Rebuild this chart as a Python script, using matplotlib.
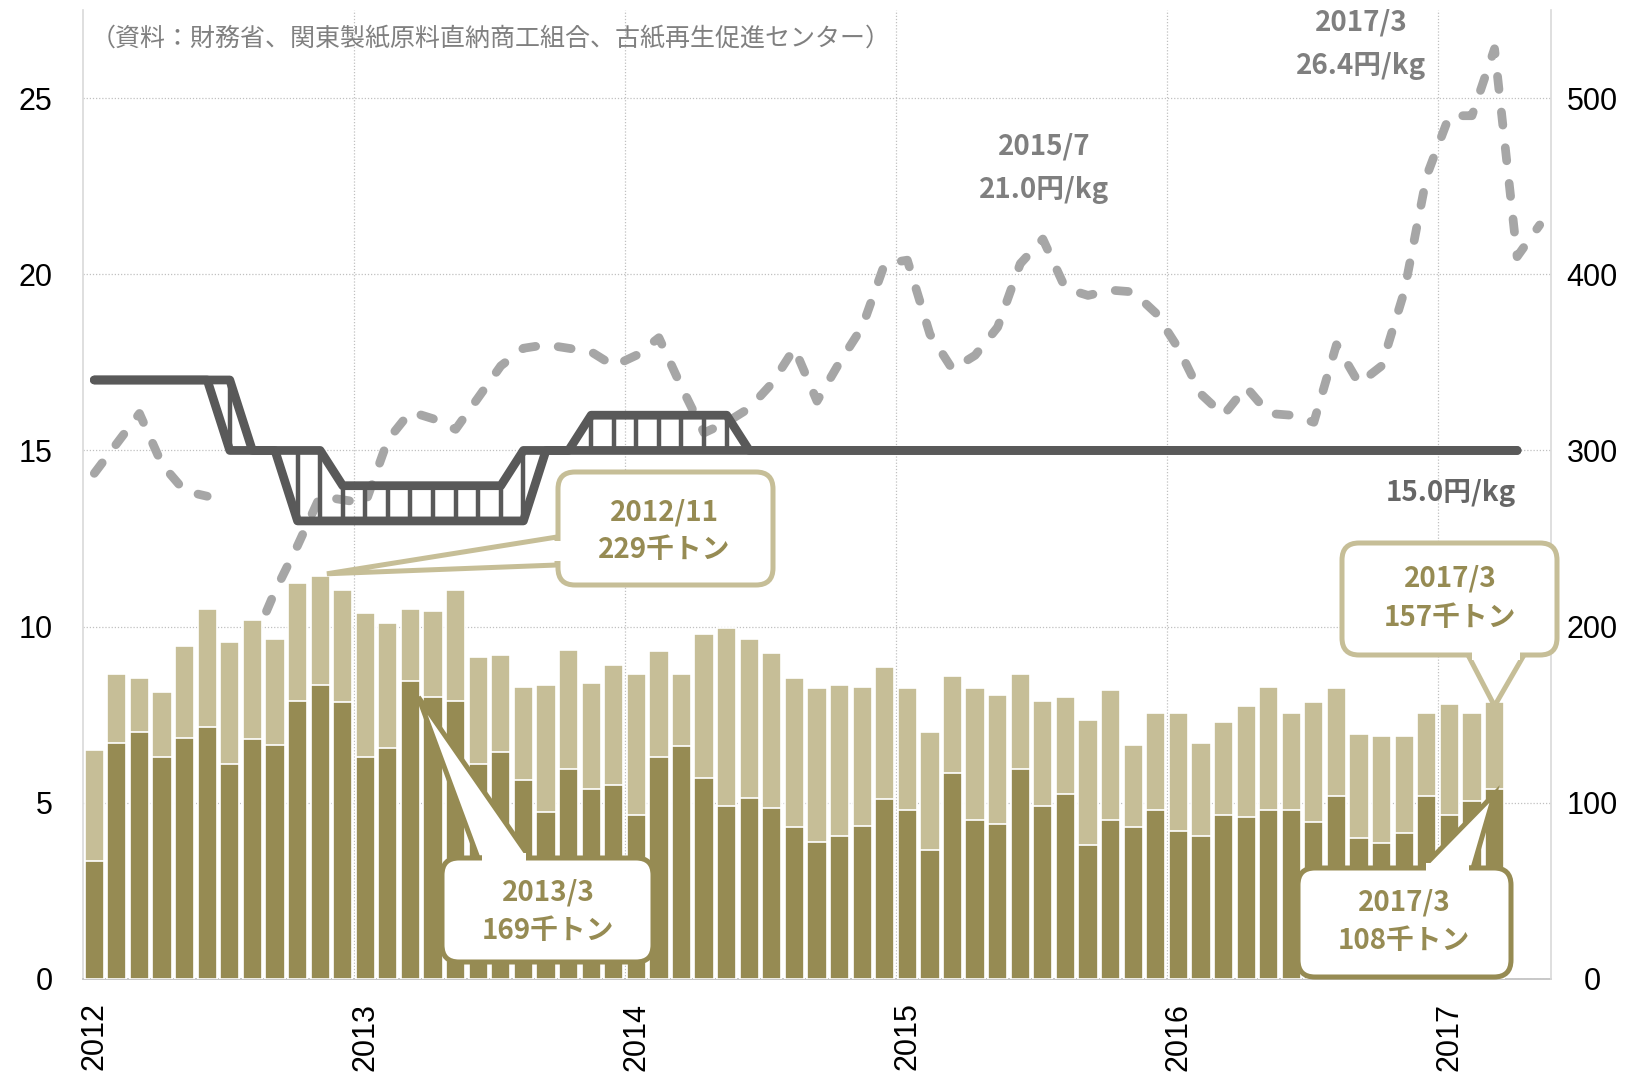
# -*- coding: utf-8 -*-
# 古紙の輸出量と価格 (2012/1 - 2017/5)

# %%
import numpy as np
import matplotlib.pyplot as plt
from matplotlib.patches import FancyBboxPatch, Polygon
from matplotlib.transforms import IdentityTransform

plt.rcParams['font.family'] = ['Noto Sans CJK JP', 'DejaVu Sans']

# %% data
years = [2012, 2013, 2014, 2015, 2016, 2017]
months = [(y, m) for y in years for m in range(1, 13)][:65]   # 2012/1 .. 2017/5

# 輸出量 千トン (右軸) : 全体と下側(濃い色)の部分, 2012/1 .. 2017/3
export_total = [130, 173, 171, 163, 189, 210, 191, 204, 193, 225, 229, 221,
                208, 202, 210, 209, 221, 183, 184, 166, 167, 187, 168, 178,
                173, 186, 173, 196, 199, 193, 185, 171, 165, 167, 166, 177,
                165, 140, 172, 165, 161, 173, 158, 160, 147, 164, 133, 151,
                151, 134, 146, 155, 166, 151, 157, 165, 139, 138, 138, 151,
                156, 151, 157]
export_lower = [67, 134, 140, 126, 137, 143, 122, 136, 133, 158, 167, 157,
                126, 131, 169, 160, 158, 122, 129, 113, 95, 119, 108, 110,
                93, 126, 132, 114, 98, 103, 97, 86, 78, 81, 87, 102,
                96, 73, 117, 90, 88, 119, 98, 105, 76, 90, 86, 96,
                84, 81, 93, 92, 96, 96, 89, 104, 80, 77, 83, 104,
                93, 101, 108]

# 輸出価格 円/kg (破線, 左軸), 2012/7 は欠測
price = [14.35, 15.2, 16.05, 14.6, 13.85, 13.7, np.nan, 9.5, 11.0, 12.3, 13.7, 13.6,
         13.5, 15.3, 16.1, 15.9, 15.6, 16.5, 17.4, 17.9, 18.0, 17.9, 17.8, 17.4,
         17.7, 18.2, 16.8, 15.5, 15.8, 16.2, 16.9, 17.9, 16.4, 17.5, 18.5, 20.3,
         20.4, 18.3, 17.3, 17.7, 18.5, 20.3, 21.0, 19.6, 19.4, 19.55, 19.5, 18.9,
         17.9, 16.6, 16.0, 16.8, 16.05, 16.0, 15.8, 18.0, 16.9, 17.4, 19.5, 22.8,
         24.5, 24.5, 26.4, 20.5, 21.4]

# 直納建値 円/kg (実線の2本), 2012/1 .. 2017/4
tatene_a = [17, 17, 17, 17, 17, 17, 15, 15, 15, 13, 13, 13,
            13, 13, 13, 13, 13, 13, 13, 13, 15, 15, 16, 16,
            16, 16, 16, 16, 16, 15, 15, 15, 15, 15, 15, 15,
            15, 15, 15, 15, 15, 15, 15, 15, 15, 15, 15, 15,
            15, 15, 15, 15, 15, 15, 15, 15, 15, 15, 15, 15,
            15, 15, 15, 15]
tatene_b = [17, 17, 17, 17, 17, 17, 17, 15, 15, 15, 15, 14,
            14, 14, 14, 14, 14, 14, 14, 15, 15, 15, 15, 15,
            15, 15, 15, 15, 15, 15, 15, 15, 15, 15, 15, 15,
            15, 15, 15, 15, 15, 15, 15, 15, 15, 15, 15, 15,
            15, 15, 15, 15, 15, 15, 15, 15, 15, 15, 15, 15,
            15, 15, 15, 15]

LIGHT = '#C6BE97'
DARK = '#968B53'
LINE = '#595959'
DASH = '#A6A6A6'
GRID = '#C0C0C0'

W, H = 1642, 1081

# %% figure
x = np.arange(len(months))
nb = len(export_total)
nt = len(tatene_a)

fig = plt.figure(figsize=(W / 100, H / 100), dpi=100)
ax = fig.add_axes([83 / W, 1 - 979 / H, (1551 - 83) / W, (979 - 10) / H])
ax2 = ax.twinx()

# lines (left axis)
ax.plot(x, price, color=DASH, lw=6.3, dashes=(1.5, 2.6),
        dash_capstyle='round', zorder=3)
ta = np.array(tatene_a, dtype=float)
tb = np.array(tatene_b, dtype=float)
lo = np.minimum(ta, tb)
hi = np.maximum(ta, tb)
m = hi > lo
ax.vlines(x[:nt][m], lo[m], hi[m], color=LINE, lw=3.2, zorder=4)
for s in (ta, tb):
    ax.plot(x[:nt], s, color=LINE, lw=6.3, solid_capstyle='round',
            solid_joinstyle='round', zorder=5)

# bars (right axis)
ax2.bar(x[:nb], export_total, width=0.85, color=LIGHT, edgecolor='white', lw=1.2)
ax2.bar(x[:nb], export_lower, width=0.85, color=DARK, edgecolor='white', lw=1.2)

ax.set_xlim(-0.5, len(months) - 0.5)
ax.set_ylim(0, 27.5)
ax2.set_ylim(0, 550)

# grid
ax.grid(axis='y', color=GRID, lw=0.9, linestyle=(0, (1, 1.5)), zorder=0)
jan = [i for i, (y, mo) in enumerate(months) if mo == 1]
for j in jan[1:]:
    ax.axvline(j - 0.5, color=GRID, lw=0.9, linestyle=(0, (1, 1.5)), zorder=0)

# ticks
tickfont = dict(family='Liberation Sans', size=22)
ax.set_xticks(jan)
ax.set_xticklabels([str(months[i][0]) for i in jan], rotation=90, **tickfont)
ax.set_yticks(range(0, 26, 5))
ax.set_yticklabels([str(v) for v in range(0, 26, 5)], **tickfont)
ax2.set_yticks(range(0, 501, 100))
ax2.set_yticklabels([str(v) for v in range(0, 501, 100)], **tickfont)
for t in ax2.get_yticklabels():
    t.set_ha('center')
ax.tick_params(axis='x', length=0, pad=17)
ax.tick_params(axis='y', length=0, pad=22)
ax2.tick_params(axis='y', length=0, pad=29.5)

for a in (ax, ax2):
    a.spines['top'].set_visible(False)
ax.spines['right'].set_visible(False)
ax2.spines['left'].set_visible(False)
ax2.spines['bottom'].set_visible(False)
ax.spines['left'].set_color('#D9D9D9')
ax.spines['bottom'].set_color('#BFBFBF')
ax2.spines['right'].set_color('#D9D9D9')
for sp in ('left', 'bottom'):
    ax.spines[sp].set_linewidth(1.2)
ax2.spines['right'].set_linewidth(1.2)


# %% labels and callouts (positions in image pixels, y downwards)
def fxy(px, py):
    return px / W, 1 - py / H


def label(px, py, s, color, size=20, weight='bold'):
    fig.text(*fxy(px, py), s, color=color, fontsize=size, fontweight=weight,
             ha='center', va='center', zorder=20)


def callout(box, base, tip, ec, lines):
    x0, y0, x1, y1 = box
    tx, ty = ax2.transData.transform(tip)
    b1 = np.array([base[0][0], H - base[0][1]], dtype=float)
    b2 = np.array([base[1][0], H - base[1][1]], dtype=float)
    idt = IdentityTransform()
    fig.add_artist(Polygon([b1, (tx, ty), b2], closed=True, fc='white', ec=ec,
                           lw=3.6, joinstyle='miter', transform=idt, zorder=10))
    fig.add_artist(FancyBboxPatch((x0, H - y1), x1 - x0, y1 - y0,
                                  boxstyle='round,pad=0,rounding_size=17',
                                  fc='white', ec=ec, lw=3.6, transform=idt, zorder=11))
    d = (b2 - b1) / np.hypot(*(b2 - b1))
    n = np.array([-d[1], d[0]])
    c = [b1 + 4 * d + 5 * n, b2 - 4 * d + 5 * n, b2 - 4 * d - 5 * n, b1 + 4 * d - 5 * n]
    fig.add_artist(Polygon(c, closed=True, fc='white', ec='none',
                           transform=idt, zorder=12))
    for (px, py), s in lines:
        label(px, py, s, DARK)


callout((558, 472, 773, 585), ((557, 537), (557, 565)), (10.3, export_total[10] + 1),
        LIGHT, [((664, 512), '2012/11'), ((664, 550), '229千トン')])
callout((442, 858, 653, 962), ((478, 858), (530, 858)), (14.35, export_lower[14] - 9),
        DARK, [((548, 893), '2013/3'), ((548, 931), '169千トン')])
callout((1342, 543, 1557, 655), ((1468, 655), (1524, 655)), (62, export_total[62] - 2),
        LIGHT, [((1450, 579), '2017/3'), ((1450, 618), '157千トン')])
callout((1298, 868, 1511, 977), ((1422, 868), (1473, 868)), (62, export_lower[62] - 3),
        DARK, [((1404, 903), '2017/3'), ((1404, 941), '108千トン')])

label(1044, 147, '2015/7', '#7F7F7F')
label(1044, 190, '21.0円/kg', '#7F7F7F')
label(1361, 23, '2017/3', '#7F7F7F')
label(1361, 66, '26.4円/kg', '#7F7F7F')
label(1451, 493, '15.0円/kg', '#666666')

fig.text(*fxy(91, 39), '（資料：財務省、関東製紙原料直納商工組合、古紙再生促進センター）',
         color='#808080', fontsize=18, ha='left', va='center')

fig.savefig('out.png', dpi=100)
